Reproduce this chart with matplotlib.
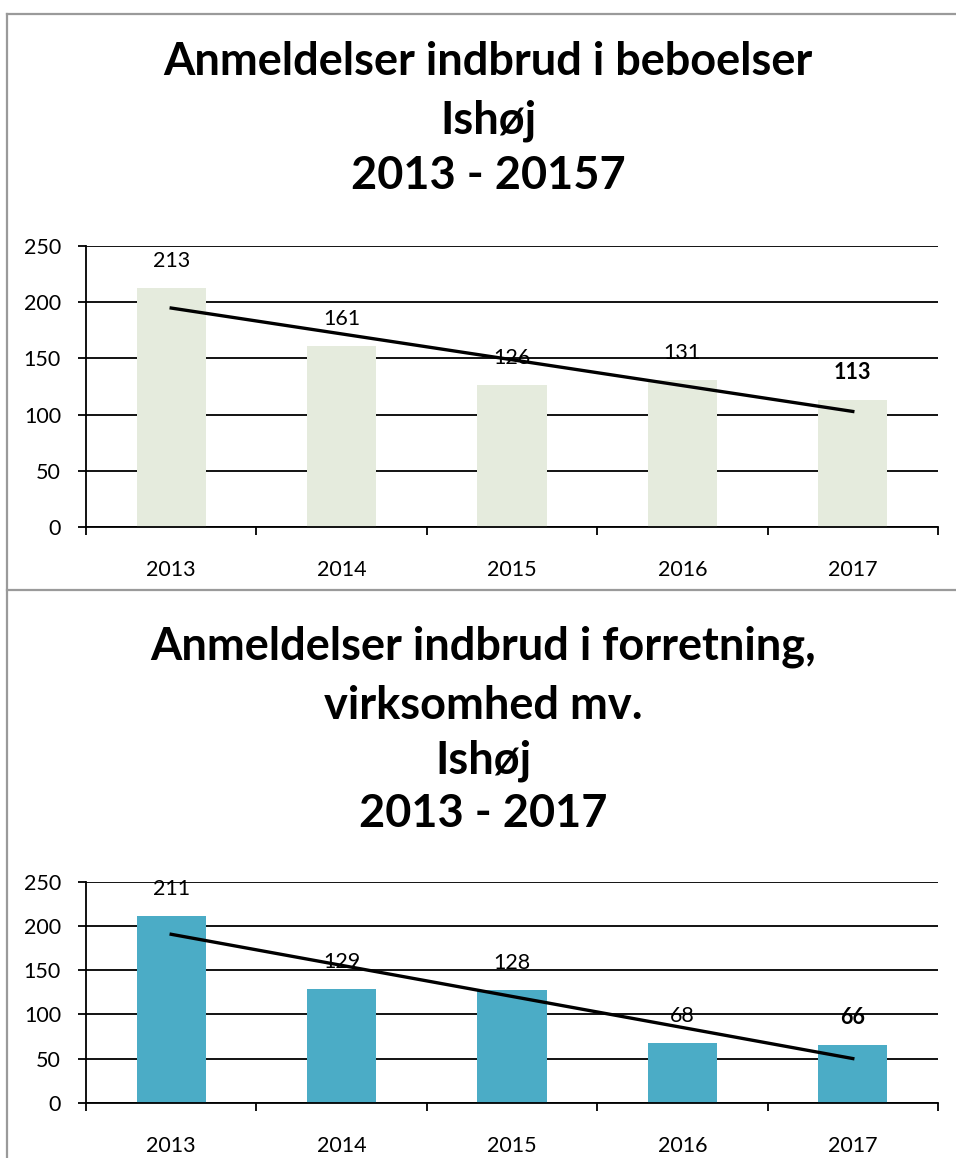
import numpy as np
import matplotlib
matplotlib.use('Agg')
import matplotlib.pyplot as plt
from matplotlib.lines import Line2D

plt.rcParams['font.family'] = ['Lato', 'DejaVu Sans']

years = ['2013', '2014', '2015', '2016', '2017']
beboelser = [213, 161, 126, 131, 113]
forretning = [211, 129, 128, 68, 66]

W, H = 956, 1158
fig = plt.figure(figsize=(W / 100, H / 100), dpi=100)


def fx(px):
    return px / W


def fy(py):
    return 1 - py / H


# ramme rundt om de to diagrammer
grey = '#9a9a9a'
fig.add_artist(Line2D([fx(7), fx(7)], [fy(14), fy(1158)], color=grey, lw=1.6))
fig.add_artist(Line2D([fx(7), fx(956)], [fy(14), fy(14)], color=grey, lw=1.6))
fig.add_artist(Line2D([fx(7), fx(956)], [fy(590), fy(590)], color=grey, lw=1.6))


def draw_chart(top, bottom, values, color, title_lines, baselines, title_x):
    ax = fig.add_axes([fx(86), fy(bottom), fx(938 - 86), (bottom - top) / H])
    x = np.arange(len(years))
    ax.bar(x, values, width=0.405, color=color, zorder=2)

    # lineær tendenslinje
    k, m = np.polyfit(x, values, 1)
    ax.plot(x, k * x + m, color='black', lw=2.4, zorder=3)

    for i, v in enumerate(values):
        bold = i == len(values) - 1
        ax.annotate(str(v), (x[i], v), xytext=(0, 19.5), textcoords='offset points',
                    ha='center', va='center', fontsize=15.5,
                    fontweight='bold' if bold else 'normal', zorder=4)

    ax.set_xlim(-0.5, len(years) - 0.5)
    ax.set_ylim(0, 250)
    ax.set_yticks(range(0, 251, 50))
    ax.yaxis.grid(True, color='black', lw=1.3)
    ax.set_axisbelow(True)
    ax.set_xticks(x)
    ax.set_xticklabels(years)
    ax.set_xticks(np.arange(-0.5, len(years), 1), minor=True)
    ax.tick_params(axis='x', which='major', length=0, pad=24, labelsize=15.5)
    ax.tick_params(axis='x', which='minor', length=6, width=1.3, direction='out')
    ax.tick_params(axis='y', length=6, width=1.3, pad=12, labelsize=15.5)
    for s in ['top', 'right']:
        ax.spines[s].set_visible(False)
    ax.spines['left'].set_linewidth(1.3)
    ax.spines['bottom'].set_linewidth(1.3)

    for line, b in zip(title_lines, baselines):
        fig.text(fx(title_x), fy(b), line, ha='center', va='baseline',
                 fontsize=32.5, fontweight='bold')
    return ax


draw_chart(246, 527, beboelser, '#e5ebdd',
           ['Anmeldelser indbrud i beboelser', 'Ishøj', '2013 - 20157'],
           [75, 133, 189], 488)
draw_chart(881.7, 1103, forretning, '#4bacc6',
           ['Anmeldelser indbrud i forretning,', 'virksomhed mv.', 'Ishøj', '2013 - 2017'],
           [660, 719, 774, 827], 483)

fig.savefig('out.png', dpi=100)
